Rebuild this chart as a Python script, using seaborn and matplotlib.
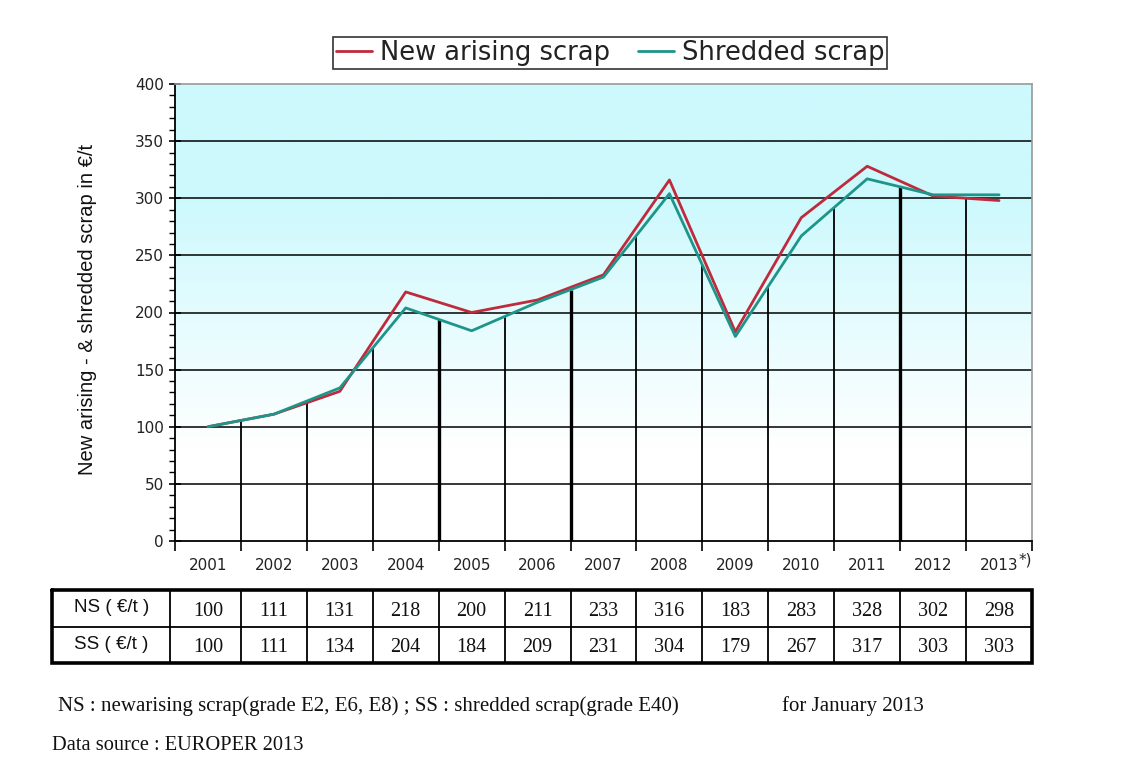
import numpy as np
import pandas as pd
import matplotlib
matplotlib.use('Agg')
import matplotlib.pyplot as plt
from matplotlib.colors import LinearSegmentedColormap
from matplotlib.ticker import MultipleLocator
from matplotlib.lines import Line2D
import seaborn as sns

years = ['2001', '2002', '2003', '2004', '2005', '2006', '2007',
         '2008', '2009', '2010', '2011', '2012', '2013']
ns_values = [100, 111, 131, 218, 200, 211, 233, 316, 183, 283, 328, 302, 298]
ss_values = [100, 111, 134, 204, 184, 209, 231, 304, 179, 267, 317, 303, 303]
series_names = ['New arising scrap', 'Shredded scrap']
row_labels = ['NS ( €/t )', 'SS ( €/t )']
y_ticks = [0, 50, 100, 150, 200, 250, 300, 350, 400]

ns_color = '#bf2a3c'
ss_color = '#1f958a'

sns.set_theme(style='white')
plt.rcParams['font.family'] = ['DejaVu Sans']

fig = plt.figure(figsize=(11.3, 7.65), dpi=100)
ax = fig.add_axes([175 / 1130, 1 - 541 / 765, (1032 - 175) / 1130, (541 - 84) / 765])

pos = np.arange(len(years))
df = pd.DataFrame({
    'pos': np.tile(pos, 2),
    'value': ns_values + ss_values,
    'series': np.repeat(series_names, len(years)),
})

#background gradient: white at the bottom, light cyan towards the top
yy = np.linspace(0, 400, 200)
t = np.clip((yy - 80) / (300 - 80), 0, 1)
cmap = LinearSegmentedColormap.from_list('bg', ['#ffffff', '#cdf9fd'])
ax.imshow(t[:, None], extent=(-0.5, 12.5, 0, 400), origin='lower',
          aspect='auto', cmap=cmap, vmin=0, vmax=1, zorder=0)

#horizontal grid
for yv in y_ticks[1:-1]:
    ax.axhline(yv, color='black', lw=1.1, zorder=1)

#drop lines at the category boundaries, up to the curves
bounds = pos[:-1] + 0.5
tops = np.minimum(np.interp(bounds, pos, ns_values), np.interp(bounds, pos, ss_values))
thick = {3, 5, 10}
for i, (b, h) in enumerate(zip(bounds, tops)):
    ax.vlines(b, 0, h, colors='black', lw=2.4 if i in thick else 1.3, zorder=2)

sns.lineplot(data=df, x='pos', y='value', hue='series',
             palette={series_names[0]: ns_color, series_names[1]: ss_color},
             linewidth=2.0, ax=ax, legend=False, zorder=4)

ax.set_xlim(-0.5, 12.5)
ax.set_ylim(0, 400)
ax.set_xlabel('')
ax.set_ylabel('')

ax.set_yticks(y_ticks)
ax.set_yticklabels([str(v) for v in y_ticks], fontsize=11, color='#222222')
ax.yaxis.set_minor_locator(MultipleLocator(10))
ax.tick_params(axis='y', which='major', direction='inout', length=8, width=1.2,
               color='black', left=True, pad=4)
ax.tick_params(axis='y', which='minor', direction='out', length=4, width=1,
               color='black', left=True)

ax.set_xticks(np.arange(-0.5, 13, 1))
ax.set_xticklabels([])
ax.set_xticks(pos, minor=True)
ax.set_xticklabels(years, minor=True, fontsize=11, color='#222222')
ax.tick_params(axis='x', which='major', direction='out', length=7, width=1.2,
               color='black', bottom=True)
ax.tick_params(axis='x', which='minor', length=0, pad=12)
ax.text(12.29, -17, '*)', fontsize=11, color='#222222', ha='left', va='center')

for side in ['left', 'bottom']:
    ax.spines[side].set_color('black')
    ax.spines[side].set_linewidth(1.3)
for side in ['top', 'right']:
    ax.spines[side].set_color('#999999')
    ax.spines[side].set_linewidth(1.2)

fig.text(88 / 1130, 1 - 309 / 765, 'New arising - & shredded scrap in €/t',
         rotation=90, ha='center', va='center', fontsize=14.5, color='#111111',
         family='Liberation Sans')

#legend above the plot
handles = [Line2D([], [], color=ns_color, lw=2.0), Line2D([], [], color=ss_color, lw=2.0)]
leg = fig.legend(handles, series_names, loc='center', bbox_to_anchor=(610 / 1130, 1 - 53 / 765),
                 ncol=2, fontsize=18.5, frameon=True, fancybox=False, handlelength=1.4,
                 handletextpad=0.3, columnspacing=1.1, borderpad=0.1, borderaxespad=0)
leg.get_frame().set_edgecolor('black')
leg.get_frame().set_linewidth(1.2)
for txt in leg.get_texts():
    txt.set_color('#222222')

#value table under the chart
tax = fig.add_axes([52 / 1130, 1 - 663 / 765, (1032 - 52) / 1130, (663 - 590) / 765])
left_val = -0.5 - (175 - 52) / (1032 - 175) * 13
tax.set_xlim(left_val, 12.5)
tax.set_ylim(0, 2)
tax.axis('off')
col_lines = [-0.57] + list(pos[1:] - 0.5)
for xv in col_lines:
    tax.plot([xv, xv], [0, 2], color='black', lw=1.3)
tax.plot([left_val, 12.5], [1, 1], color='black', lw=1.3)
tax.plot([left_val, 12.5, 12.5, left_val, left_val], [2, 2, 0, 0, 2], color='black', lw=2.6,
         solid_joinstyle='miter', clip_on=False)
label_x = (left_val + -0.57) / 2
for r, (lab, vals) in enumerate(zip(row_labels, [ns_values, ss_values])):
    yc = 1.5 - r
    tax.text(label_x, yc + 0.02, lab, ha='center', va='center', fontsize=13.5,
             color='#111111', family='Liberation Sans')
    for p, v in zip(pos, vals):
        tax.text(p, yc - 0.08, str(v), ha='center', va='center', fontsize=14.5,
                 color='#111111', family='Liberation Serif')

#footnotes
fig.text(58 / 1130, 1 - 706 / 765,
         'NS : newarising scrap(grade E2, E6, E8) ; SS : shredded scrap(grade E40)',
         ha='left', va='center', fontsize=15, family='Liberation Serif', color='#111111')
fig.text(782 / 1130, 1 - 706 / 765, 'for January 2013',
         ha='left', va='center', fontsize=15, family='Liberation Serif', color='#111111')
fig.text(52 / 1130, 1 - 745 / 765, 'Data source : EUROPER 2013',
         ha='left', va='center', fontsize=14.7, family='Liberation Serif', color='#111111')

fig.savefig('out.png', dpi=100)
